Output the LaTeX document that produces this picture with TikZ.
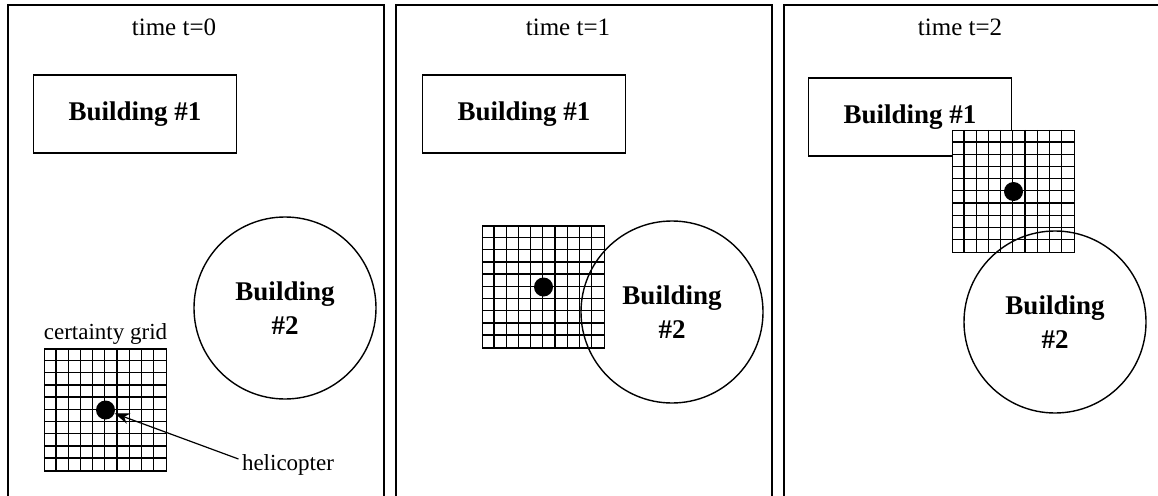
\documentclass[tikz,border=0pt]{standalone}
\usepackage{fontspec}
\setmainfont{Liberation Serif}
\usetikzlibrary{arrows.meta, positioning, calc}

\begin{document}
\begin{tikzpicture}[
    x=1pt, y=-1pt,
    panel/.style={draw, line width=1.6pt},
    title/.style={font=\fontsize{25}{29}\selectfont},
    lbl/.style={font=\fontsize{23}{27}\selectfont},
    bldgone/.style={draw, line width=1.4pt, minimum width=203pt, minimum height=78pt,
        font=\fontsize{27}{32}\selectfont\bfseries},
    bldgtwo/.style={draw, circle, line width=1.4pt, minimum size=182pt, align=center,
        font=\fontsize{27}{34}\selectfont\bfseries},
    cgrid/.style={draw, fill=white, line width=1.5pt, minimum size=122pt, inner sep=0pt},
    heli/.style={circle, fill, inner sep=0pt, minimum size=19pt},
    arrow/.style={-{Stealth[length=15pt, width=11pt]}, line width=1.2pt}
]
    \clip (0,0) rectangle (1158,495);
    % three time frames
    \draw[panel] (8,5) rectangle (384,520);
    \draw[panel] (396,5) rectangle (772,520);
    \draw[panel] (784,5) rectangle (1170,520);
    \node[title] (t0) at (174,27) {time t=0};
    \node[title] (t1) at (568,27) {time t=1};
    \node[title] (t2) at (960,27) {time t=2};

    \node[bldgone] (ba) at (135,114) {Building \#1};
    \node[bldgone] (bb) at (524,114) {Building \#1};
    \node[bldgone] (bc) at (910,117) {Building \#1};

    % certainty grids
    \node[cgrid] (ga) at (105.5,410) {};
    \node[cgrid] (gb) at (543.5,287) {};
    \node[cgrid] (gc) at (1013.5,191.5) {};
    \foreach \g in {ga,gb,gc} {
        \foreach \i in {1,...,9} {
            \draw[line width=1.3pt] ($(\g.north west)+(\i*12.2,0)$) -- ++(0,122);
            \draw[line width=1.3pt] ($(\g.north west)+(0,\i*12.2)$) -- ++(122,0);
        }
    }
    \node[heli] (ha) at (ga.center) {};
    \node[heli] (hb) at (gb.center) {};
    \node[heli] (hc) at (gc.center) {};

    \node[bldgtwo] (ca) at (285,308) {Building\\\#2};
    \node[bldgtwo] (cb) at (672,312) {Building\\\#2};
    \node[bldgtwo] (cc) at (1055,322) {Building\\\#2};

    \node[lbl, above=0pt of ga] (lg) {certainty grid};
    \node[lbl] (lh) at (288,465) {helicopter};
    \draw[arrow] ([yshift=6pt]lh.west) -- (ha);
\end{tikzpicture}
\end{document}
